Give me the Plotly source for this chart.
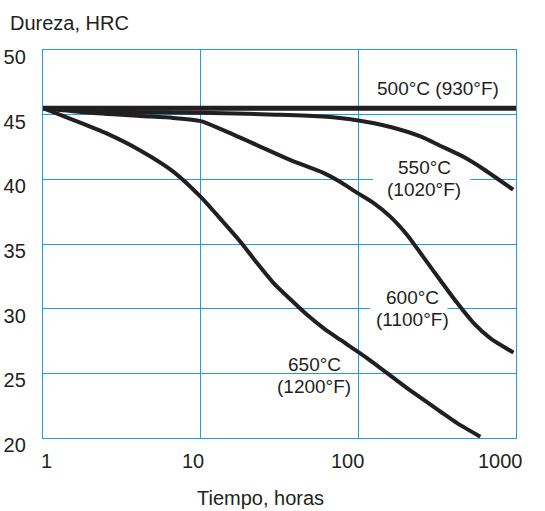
import math
import plotly.graph_objects as go

# ---- data ----
t_500 = [1, 1000]
h_500 = [45.5, 45.5]

t_550 = [1, 2.5, 10, 30, 60, 100, 160, 250, 330, 470, 620, 960]
h_550 = [45.5, 45.25, 45.15, 45.0, 44.85, 44.55, 44.05, 43.3, 42.6, 41.7, 40.8, 39.2]

t_600 = [1, 2, 4.1, 6.7, 10, 13.9, 22.7, 36.9, 60, 77, 98.5, 124, 160, 204, 258, 331, 423, 537, 689, 964]
h_600 = [45.5, 45.15, 44.9, 44.75, 44.5, 43.8, 42.65, 41.5, 40.5, 39.8, 38.95, 38.2, 37.1, 35.7, 34.0, 32.2, 30.45, 28.9, 27.7, 26.6]

t_650 = [1, 1.55, 2.53, 4.11, 6.7, 9.9, 13.9, 17.8, 22.7, 28.9, 36.9, 47.1, 60.1, 76.7, 113, 204, 331, 423, 594]
h_650 = [45.5, 44.6, 43.55, 42.25, 40.6, 38.7, 36.7, 35.2, 33.55, 32.0, 30.75, 29.55, 28.5, 27.6, 26.2, 23.85, 22.05, 21.15, 20.1]

x_ticks = [1, 10, 100, 1000]
x_tick_labels = ["1", "10", "100", "1000"]
y_ticks = [20, 25, 30, 35, 40, 45, 50]

series_labels = [
    ("500°C (930°F)", None),
    ("550°C", "(1020°F)"),
    ("600°C", "(1100°F)"),
    ("650°C", "(1200°F)"),
]

BLUE = "#1f9fdc"
INK = "#231f20"
FONT = "Liberation Sans, Arial, Helvetica, sans-serif"

fig = go.Figure()
for t, h, w in [(t_500, h_500, 5), (t_550, h_550, 4), (t_600, h_600, 4), (t_650, h_650, 4)]:
    fig.add_trace(go.Scatter(x=t, y=h, mode="lines",
                             line=dict(color=INK, width=w, shape="spline", smoothing=0.7),
                             showlegend=False, hoverinfo="skip"))

fig.update_xaxes(type="log", range=[0, 3], tickvals=x_ticks, showticklabels=False,
                 ticks="", showgrid=True, gridcolor=BLUE, gridwidth=1.3, automargin=False,
                 showline=True, mirror=True, linecolor=BLUE, linewidth=1.3, zeroline=False)
fig.update_yaxes(range=[20, 50], tickvals=y_ticks, ticks="", automargin=False,
                 showgrid=True, gridcolor=BLUE, gridwidth=1.3,
                 showline=True, mirror=True, linecolor=BLUE, linewidth=1.3, zeroline=False,
                 tickfont=dict(size=20, color=INK, family=FONT),
                 ticklabelstandoff=12, ticklabelshift=7)

# white gaps in gridlines behind two labels
fig.add_shape(type="rect", xref="x", yref="y", x0=124, x1=514, y0=39.3, y1=40.7,
              fillcolor="white", line=dict(width=0), layer="between")
fig.add_shape(type="rect", xref="x", yref="y", x0=119, x1=367, y0=29.3, y1=30.7,
              fillcolor="white", line=dict(width=0), layer="between")

ann = []
def txt(text, x, y, **kw):
    d = dict(text=text, x=x, y=y, xref="x", yref="y", showarrow=False,
             font=dict(size=19, color=INK, family=FONT), xanchor="center", yanchor="middle")
    d.update(kw)
    ann.append(d)

# curve labels (x given as log10 for log axis annotations)
txt(series_labels[0][0], 2.902, 47.0, xanchor="right")
txt(series_labels[1][0], 2.419, 40.95)
txt(series_labels[1][1], 2.417, 39.25)
txt(series_labels[2][0], 2.346, 30.9)
txt(series_labels[2][1], 2.346, 29.2)
txt(series_labels[3][0], 1.723, 25.65)
txt(series_labels[3][1], 1.720, 23.95)

# x tick labels
shifts = [3, -7.5, -11, -16]
for v, lab, s in zip(x_ticks, x_tick_labels, shifts):
    ann.append(dict(text=lab, x=math.log10(v), y=0, xref="x", yref="paper", showarrow=False,
                    xanchor="center", yanchor="middle", xshift=s, yshift=-23,
                    font=dict(size=20, color=INK, family=FONT)))

# axis titles
ann.append(dict(text="Dureza, HRC", x=0, y=1, xref="paper", yref="paper", showarrow=False,
                xanchor="left", yanchor="middle", xshift=-35, yshift=27,
                font=dict(size=20, color=INK, family=FONT)))
ann.append(dict(text="Tiempo, horas", x=0.46, y=0, xref="paper", yref="paper", showarrow=False,
                xanchor="center", yanchor="middle", yshift=-60,
                font=dict(size=20, color=INK, family=FONT)))

fig.update_layout(width=545, height=511, margin=dict(l=43, r=29, t=50, b=73),
                  paper_bgcolor="white", plot_bgcolor="white", annotations=ann,
                  font=dict(family=FONT, color=INK))

fig.write_html("out.html", config={"displayModeBar": False},
               post_script="document.body.style.margin='0';")
